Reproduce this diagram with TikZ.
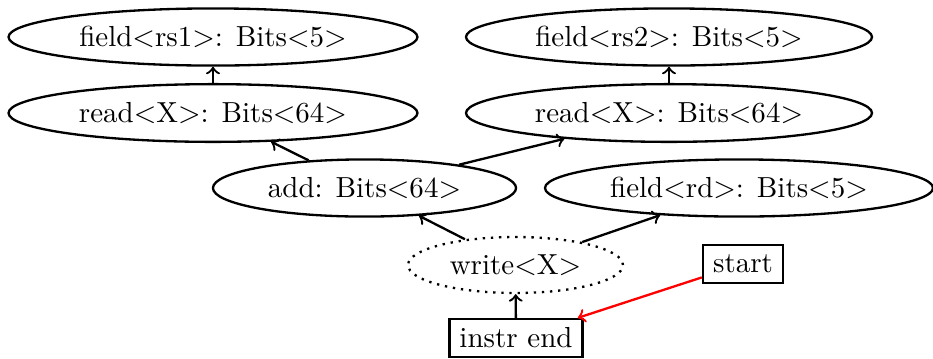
\documentclass[tikz,border=0pt]{standalone}
\usetikzlibrary{shapes.geometric}
\begin{document}
\begin{tikzpicture}[x=0.3448pt,y=-0.3448pt,
  every node/.style={font=\normalsize},
  ell/.style={draw,ellipse,line width=0.8pt,inner sep=0pt},
  boxnode/.style={draw,rectangle,line width=0.8pt,inner sep=0pt},
  conn/.style={->,line width=0.8pt},
  redconn/.style={->,line width=0.8pt,red}]
\useasboundingbox (0,0) rectangle (933,358);
\node[ell,minimum width=141pt,minimum height=19.7pt] (frs1) at (213,37) {field<rs1>: Bits<5>};
\node[ell,minimum width=141pt,minimum height=19.9pt] (readL) at (213,113) {read<X>: Bits<64>};
\node[ell,minimum width=140pt,minimum height=19.7pt] (frs2) at (669,37) {field<rs2>: Bits<5>};
\node[ell,minimum width=140pt,minimum height=19.9pt] (readR) at (669,113) {read<X>: Bits<64>};
\node[ell,minimum width=104.5pt,minimum height=19.7pt] (add) at (364.5,188) {add: Bits<64>};
\node[ell,minimum width=133.8pt,minimum height=19.7pt] (frd) at (739,188) {field<rd>: Bits<5>};
\node[ell,dotted,minimum width=74.1pt,minimum height=19.3pt] (write) at (515.5,265) {write<X>};
\node[boxnode,minimum width=27.6pt,minimum height=13.1pt] (start) at (743,264) {start};
\node[boxnode,minimum width=45.9pt,minimum height=13.1pt] (iend) at (516,338) {instr end};
\draw[conn] (readL) -- (frs1);
\draw[conn] (readR) -- (frs2);
\draw[conn] (add) -- (readL);
\draw[conn] (add) -- (readR);
\draw[conn] (write) -- (add);
\draw[conn] (write) -- (frd);
\draw[conn] (iend) -- (write);
\draw[redconn] (start) -- (iend);
\end{tikzpicture}
\end{document}
